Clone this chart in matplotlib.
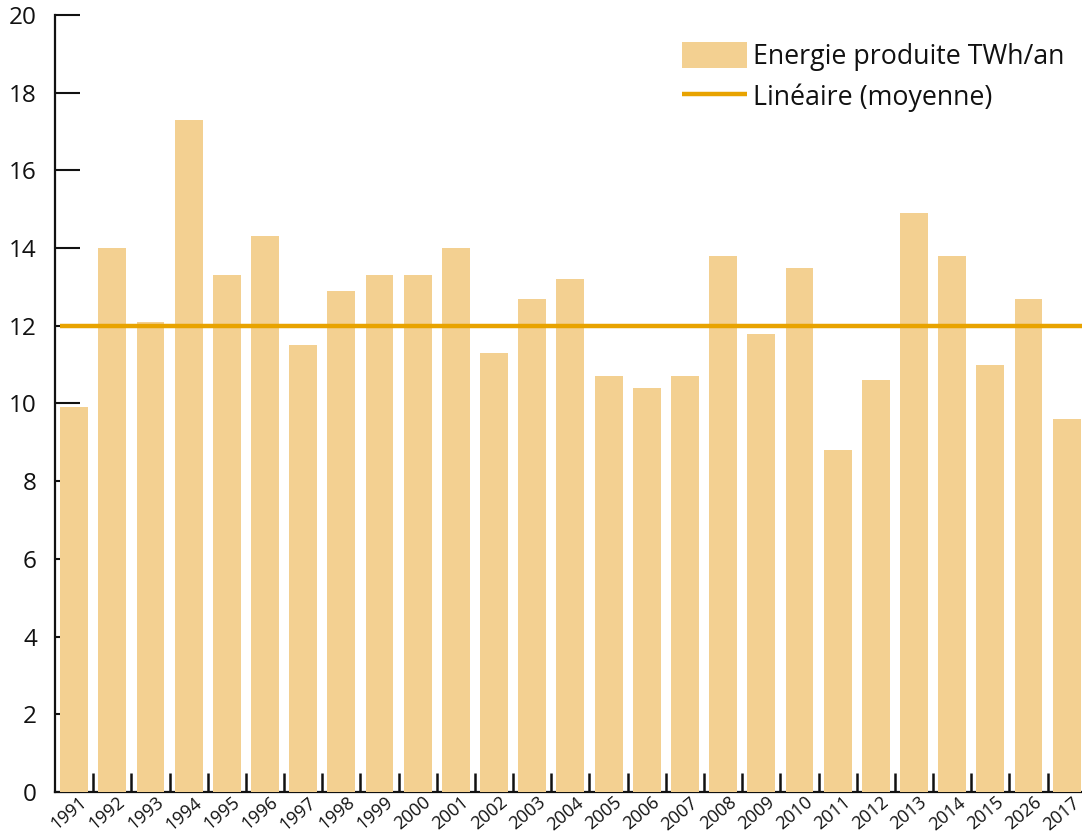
import numpy as np
import matplotlib.pyplot as plt
from matplotlib.transforms import ScaledTranslation

plt.rcParams['font.family'] = ['Open Sans', 'DejaVu Sans']

# data
years = ['1991', '1992', '1993', '1994', '1995', '1996', '1997', '1998', '1999',
         '2000', '2001', '2002', '2003', '2004', '2005', '2006', '2007', '2008',
         '2009', '2010', '2011', '2012', '2013', '2014', '2015', '2026', '2017']
energy = [9.9, 14.0, 12.1, 17.3, 13.3, 14.3, 11.5, 12.9, 13.3,
          13.3, 14.0, 11.3, 12.7, 13.2, 10.7, 10.4, 10.7, 13.8,
          11.8, 13.5, 8.8, 10.6, 14.9, 13.8, 11.0, 12.7, 9.6]
mean_value = 12.0
y_ticks = [0, 2, 4, 6, 8, 10, 12, 14, 16, 18, 20]

bar_color = '#F3D091'
line_color = '#E8A300'

fig = plt.figure(figsize=(10.82, 8.35), dpi=100)
ax = fig.add_axes([55 / 1082, 1 - 792 / 835, 1 - 55 / 1082, (792 - 15) / 835])

x = np.arange(len(years))
bars = ax.bar(x, energy, width=0.73, color=bar_color, zorder=3,
              label='Energie produite TWh/an')
mean_line = ax.hlines(mean_value, -0.37, len(years), color=line_color,
                      linewidth=3.2, zorder=4, label='Linéaire (moyenne)')

ax.set_xlim(-0.5, len(years) - 0.6)
ax.set_ylim(0, 20)

# spines
for side in ['top', 'right']:
    ax.spines[side].set_visible(False)
for side in ['left', 'bottom']:
    ax.spines[side].set_linewidth(1.6)
    ax.spines[side].set_color('#111111')

# y ticks
ax.set_yticks(y_ticks)
ax.set_yticklabels([str(t) for t in y_ticks], fontsize=17.5, color='#111111')
ax.tick_params(axis='y', direction='in', length=18, width=1.5, pad=13,
               color='#111111')

# x ticks: major at bar boundaries, labels on minor at bar centres
ax.set_xticks(x[:-1] + 0.5)
ax.set_xticklabels([])
ax.tick_params(axis='x', which='major', direction='in', length=13.5,
               width=1.8, color='#111111')
ax.set_xticks(x, minor=True)
ax.set_xticklabels(years, minor=True, rotation=40, ha='right', va='top',
                   rotation_mode='anchor', fontsize=13, color='#111111')
ax.tick_params(axis='x', which='minor', length=0, pad=1)
shift = ScaledTranslation(5 / 100, 0, fig.dpi_scale_trans)
for lab in ax.get_xticklabels(minor=True):
    lab.set_transform(lab.get_transform() + shift)

leg = ax.legend([bars, mean_line], ['Energie produite TWh/an', 'Linéaire (moyenne)'],
                loc='upper right', bbox_to_anchor=(1064 / 1082, 1 - 42 / 835),
                bbox_transform=fig.transFigure, frameon=False, fontsize=19.3,
                handlelength=2.45, handleheight=1.1, handletextpad=0.2,
                labelspacing=0.45, borderpad=0, borderaxespad=0)
for t in leg.get_texts():
    t.set_color('#111111')

fig.savefig('out.png', dpi=100)
